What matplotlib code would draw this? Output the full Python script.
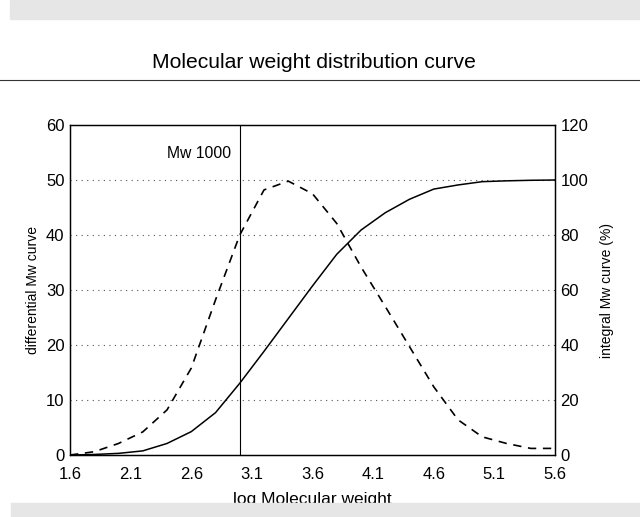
import matplotlib
matplotlib.use("Agg")
import matplotlib.pyplot as plt
from matplotlib.patches import Rectangle
from matplotlib.lines import Line2D

plt.rcParams['font.family'] = ['Liberation Sans', 'DejaVu Sans']

log_mw = [1.6, 1.8, 2.0, 2.2, 2.4, 2.6, 2.8, 3.0, 3.2, 3.4, 3.6, 3.8,
          4.0, 4.2, 4.4, 4.6, 4.8, 5.0, 5.2, 5.4, 5.6]
differential = [0.0, 0.6, 2.1, 4.2, 8.2, 15.8, 28.2, 40.0, 48.2, 49.8, 47.5,
                42.1, 34.2, 27.0, 19.7, 12.4, 6.4, 3.3, 2.1, 1.2, 1.2]
integral = [0.0, 0.2, 0.6, 1.5, 4.2, 8.5, 15.4, 26.1, 37.7, 49.6, 61.5, 73.0,
            81.8, 88.1, 93.0, 96.7, 98.2, 99.4, 99.7, 99.9, 100.0]
x_ticks = [1.6, 2.1, 2.6, 3.1, 3.6, 4.1, 4.6, 5.1, 5.6]
left_ticks = [0, 10, 20, 30, 40, 50, 60]
right_ticks = [0, 20, 40, 60, 80, 100, 120]
grid_levels = [10, 20, 30, 40, 50]
marker_x = 3.0

fig = plt.figure(figsize=(6.4, 5.17), dpi=100)
ax = fig.add_axes([0.1094, 0.1199, 0.7578, 0.6383])
ax2 = ax.twinx()

ax.set_xlim(1.6, 5.6)
ax.set_ylim(0, 60)
ax2.set_ylim(0, 120)

for g in grid_levels:
    ax.axhline(g, color='#555555', lw=0.8, ls=(0, (1, 4)), zorder=1)

ax.plot(log_mw, differential, color='black', lw=1.2, ls=(0, (5, 4)), zorder=3)
ax2.plot(log_mw, integral, color='black', lw=1.1, zorder=3)
ax.axvline(marker_x, color='black', lw=0.8, zorder=2)
ax.text(marker_x - 0.07, 54.8, 'Mw 1000', ha='right', va='center', fontsize=11.3)

ax.set_xticks(x_ticks)
ax.set_xticklabels([f'{t:.1f}' for t in x_ticks])
ax.set_yticks(left_ticks)
ax2.set_yticks(right_ticks)
for a in (ax, ax2):
    a.tick_params(length=0, labelsize=12, pad=4)
    for s in a.spines.values():
        s.set_linewidth(0.9)
ax.tick_params(axis='x', pad=8.5)

ax.set_ylabel('differential Mw curve', fontsize=10, labelpad=4)
ax2.set_ylabel('integral Mw curve (%)', fontsize=10, labelpad=8)
ax.set_xlabel('log Molecular weight', fontsize=12.5, labelpad=7)

fig.text(0.5 - 6 / 640, 1 - 63 / 517, 'Molecular weight distribution curve',
         ha='center', va='center', fontsize=15.2)
fig.add_artist(Line2D([0, 1], [1 - 80 / 517, 1 - 80 / 517], color='#333333', lw=0.8))

fig.add_artist(Rectangle((10 / 640, 1 - 19 / 517), 1, 19 / 517,
                         color='#e6e6e6', zorder=10, transform=fig.transFigure))
fig.add_artist(Rectangle((11 / 640, 0), 1, 14 / 517,
                         color='#e6e6e6', zorder=10, transform=fig.transFigure))

fig.savefig('out.png', dpi=100)
